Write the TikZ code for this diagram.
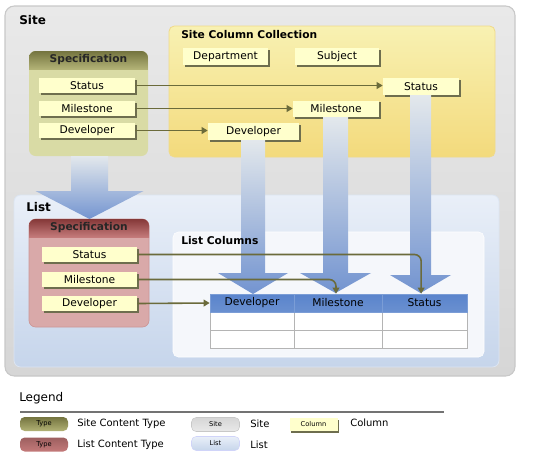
\documentclass[tikz,border=0pt]{standalone}
\usepackage{fontspec}
\setmainfont{DejaVu Sans}
\usetikzlibrary{arrows.meta,shadows}
\definecolor{sitetop}{HTML}{E9E9E9}
\definecolor{sitebot}{HTML}{D6D6D6}
\definecolor{siteedge}{HTML}{C8C8C8}
\definecolor{scctop}{HTML}{F8F1B2}
\definecolor{sccbot}{HTML}{F3DA7C}
\definecolor{sccedge}{HTML}{F0DA8A}
\definecolor{ospecbody}{HTML}{D9DBA5}
\definecolor{ospectop}{HTML}{74743F}
\definecolor{ospecbot}{HTML}{B2B276}
\definecolor{rspecbody}{HTML}{D9A9A9}
\definecolor{rspecedge}{HTML}{CC9696}
\definecolor{rspectop}{HTML}{853838}
\definecolor{rspecbot}{HTML}{C47A7A}
\definecolor{listtop}{HTML}{E9EFF8}
\definecolor{listbot}{HTML}{C6D5EB}
\definecolor{listedge}{HTML}{DCE5F2}
\definecolor{lcfill}{HTML}{F5F7FB}
\definecolor{colfill}{HTML}{FFFFCC}
\definecolor{colshadow}{HTML}{6E6E4E}
\definecolor{linkc}{HTML}{6B6B3B}
\definecolor{arrtop}{HTML}{E3E8EC}
\definecolor{arrbot}{HTML}{7394D0}
\definecolor{hdtop}{HTML}{5A84CC}
\definecolor{hdmid}{HTML}{A3BAE2}
\definecolor{hdbot}{HTML}{6A90D0}
\definecolor{gridc}{HTML}{B4B4B4}
\tikzset{
  colbox/.style={fill=colfill, minimum height=11.5pt, inner sep=0pt,
    font=\fontsize{8}{9}\selectfont,
    drop shadow={shadow xshift=1.3pt, shadow yshift=-1.3pt, fill=colshadow, opacity=1}},
  link/.style={draw=linkc, line width=1.2pt, -{Triangle[length=4.5pt,width=5pt]}},
  titlebig/.style={anchor=west, inner sep=0pt, font=\fontsize{9}{10}\selectfont\bfseries},
  titlesmall/.style={anchor=west, inner sep=0pt, font=\fontsize{8}{9}\selectfont\bfseries},
  hdcell/.style={minimum height=13.5pt, inner sep=0pt, font=\fontsize{8}{9}\selectfont,
    top color=hdtop, middle color=hdmid, bottom color=hdbot, draw=hdtop!80!white, line width=0.5pt},
  chip/.style={minimum width=36pt, minimum height=10.5pt, inner sep=0pt, rounded corners=3.5pt,
    font=\fontsize{5}{6}\selectfont},
  legtext/.style={anchor=west, inner sep=0pt, font=\fontsize{7.5}{9}\selectfont},
}
\newcommand\fatarrow[6]{%
  \shade[top color=arrtop, bottom color=arrbot]
    (#1-#5,#2) -- (#1+#5,#2) -- (#1+#5,#3) -- (#1+#6,#3) -- (#1,#4)
    -- (#1-#6,#3) -- (#1-#5,#3) -- cycle;}
\begin{document}
\begin{tikzpicture}[x=0.75pt, y=-0.75pt]
\useasboundingbox[fill=white] (0,0) rectangle (535,462);

% Site
\shade[top color=sitetop, bottom color=sitebot, draw=siteedge, line width=0.8pt, rounded corners=7pt]
  (5,6) rectangle (515,376);
\node[titlebig] (sitetitle) at (19,20) {Site};

% Site column collection
\shade[top color=scctop, bottom color=sccbot, draw=sccedge, line width=0.6pt, rounded corners=4pt]
  (169,26) rectangle (495,157);
\node[titlesmall] (scctitle) at (181,35) {Site Column Collection};

% Site specification
\fill[ospecbody, rounded corners=5pt] (29,51) rectangle (148,156);
\begin{scope}
  \clip[rounded corners=5pt] (29,51) rectangle (148,156);
  \shade[top color=ospectop, bottom color=ospecbot] (29,51) rectangle (148,69);
\end{scope}
\node[font=\fontsize{8}{9}\selectfont\bfseries, text=black!85] (sspec) at (88.5,60) {Specification};

\node[colbox, minimum width=72pt] (sStatus) at (87,85.5) {Status};
\node[colbox, minimum width=72pt] (sMile) at (87,108.5) {Milestone};
\node[colbox, minimum width=72pt] (sDev) at (87,130.5) {Developer};

\node[colbox, minimum width=63.75pt, minimum height=12.5pt] (dept) at (225.5,56.5) {Department};
\node[colbox, minimum width=63pt, minimum height=12.5pt] (subj) at (337,56.5) {Subject};
\node[colbox, minimum width=57pt, minimum height=12.5pt] (cStatus) at (421,86.5) {Status};
\node[colbox, minimum width=64.5pt, minimum height=12.5pt] (cMile) at (336,109) {Milestone};
\node[colbox, minimum width=68.25pt, minimum height=12.5pt] (cDev) at (253.5,131.5) {Developer};

\draw[link] (sStatus.east) -- (sStatus.east -| cStatus.west);
\draw[link] (sMile.east) -- (sMile.east -| cMile.west);
\draw[link] (sDev.east) -- (sDev.east -| cDev.west);

% List
\shade[top color=listtop, bottom color=listbot, draw=listedge, line width=0.6pt, rounded corners=5pt]
  (14,195) rectangle (499,367);
\node[titlebig] (listtitle) at (26,207) {List};

\fill[lcfill, draw=white, rounded corners=4pt] (173,232) rectangle (484,357);

% List specification
\fill[rspecbody, draw=rspecedge, line width=0.5pt, rounded corners=5pt] (29,219) rectangle (149,327);
\begin{scope}
  \clip[rounded corners=5pt] (29,219) rectangle (149,327);
  \shade[top color=rspectop, bottom color=rspecbot] (29,219) rectangle (149,237);
\end{scope}

% big arrows
\fatarrow{89.5}{156}{191}{219}{18.5}{54}
\fatarrow{253}{140}{273}{294}{12}{35}
\fatarrow{335.5}{117}{273}{293}{12.5}{35.5}
\fatarrow{420.5}{95}{275}{293}{10.5}{30.5}

\node[font=\fontsize{8}{9}\selectfont\bfseries, text=black!85] (lspec) at (89,228) {Specification};
\node[titlesmall] (lctitle) at (181,241) {List Columns};

\node[colbox, minimum width=71.25pt] (lStatus) at (89.5,254.5) {Status};
\node[colbox, minimum width=71.25pt] (lMile) at (89.5,279.5) {Milestone};
\node[colbox, minimum width=71.25pt] (lDev) at (89.5,303.5) {Developer};

% table
\fill[white, draw=gridc, line width=0.6pt] (210,312) rectangle (467,348);
\draw[gridc, line width=0.6pt] (210,330) -- (467,330) (294,312) -- (294,348) (382,312) -- (382,348);
\node[hdcell, minimum width=63pt] (hDev) at (252,303) {Developer};
\node[hdcell, minimum width=66pt] (hMile) at (338,303) {Milestone};
\node[hdcell, minimum width=63.75pt] (hStatus) at (424.5,303) {Status};

\draw[link, rounded corners=5pt] (lStatus.east) -| ([xshift=-2.5pt]hStatus.north);
\draw[link, rounded corners=5pt] (lMile.east) -| ([xshift=-1.5pt]hMile.north);
\draw[link] (lDev.east) -- (hDev.west);

% Legend
\node[anchor=west, inner sep=0pt, font=\fontsize{9}{10}\selectfont] (legend) at (19,398) {Legend};
\coordinate (lgA) at (20,412);
\coordinate (lgB) at (444,412);
\draw[black!55, line width=1.2pt] (lgA) -- (lgB);

\node[chip, top color=ospectop, bottom color=ospecbot] (chipSCT) at (44,424) {Type};
\node[legtext] (tSCT) at (77,424) {Site Content Type};
\node[chip, top color=rspectop!80, bottom color=rspecbot] (chipLCT) at (44,444.5) {Type};
\node[legtext] (tLCT) at (77,444.5) {List Content Type};
\node[chip, top color=sitebot, bottom color=sitetop, draw=siteedge, line width=0.4pt] (chipSite) at (215.5,424.5) {Site};
\node[legtext] (tSite) at (250,424) {Site};
\node[chip, top color=listtop, bottom color=listbot, draw=listedge!80!blue!60, line width=0.4pt] (chipList) at (215.5,443.5) {List};
\node[legtext] (tList) at (250,444.5) {List};
\node[colbox, minimum width=36pt, minimum height=9.75pt, font=\fontsize{5}{6}\selectfont] (chipCol) at (313.5,424.5) {Column};
\node[legtext] (tCol) at (350,423) {Column};
\end{tikzpicture}
\end{document}
